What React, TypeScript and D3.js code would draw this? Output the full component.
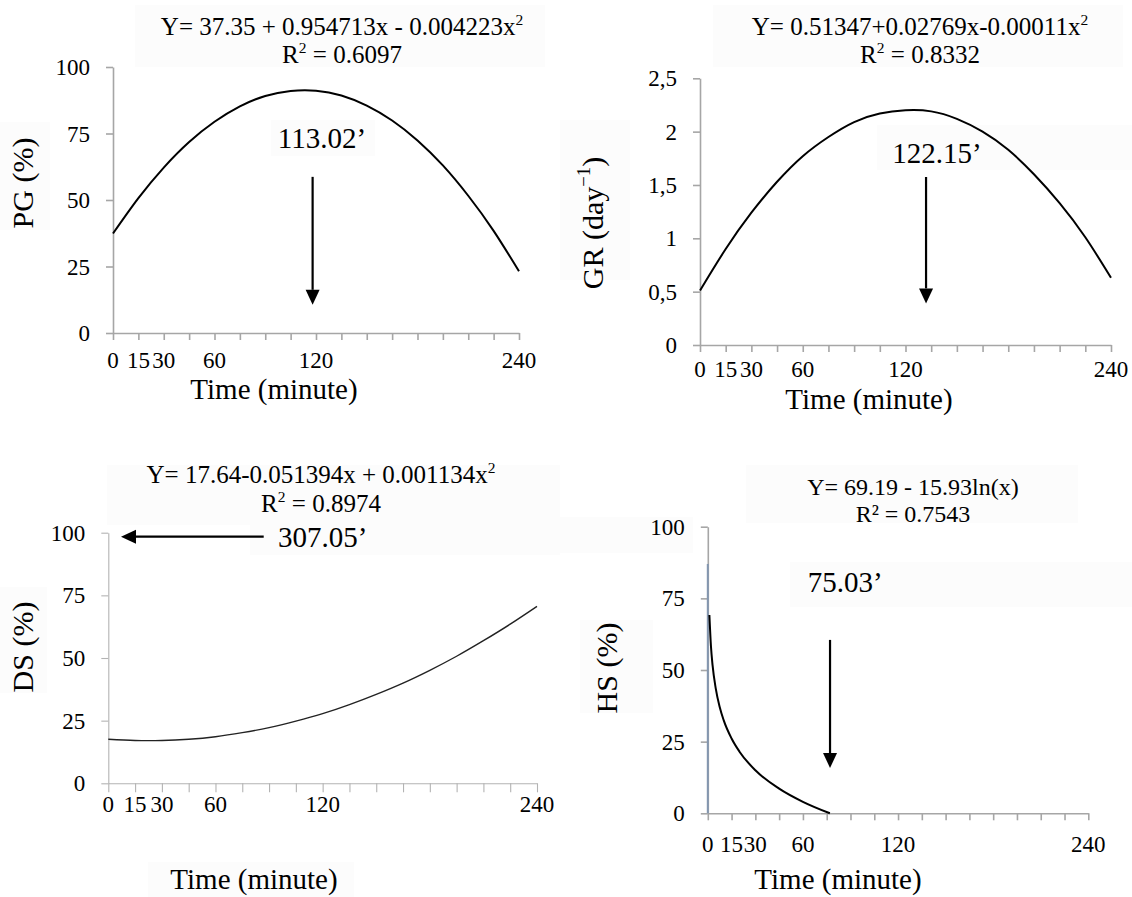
import React, { useEffect, useRef } from "react";
import * as d3 from "d3";

// time axis (minutes)
const minuteTicks = [0, 15, 30, 45, 60, 75, 90, 105, 120, 135, 150, 165, 180, 195, 210, 225, 240];
const minuteLabels = [0, 15, 30, 60, 120, 240];

// values
const pgValues = [37.4, 50.7, 62.2, 71.8, 79.4, 85.2, 89.1, 91.0, 91.1, 89.3, 85.5, 79.9, 72.4, 63.0, 51.6, 38.4, 23.2];
const grValues = [0.51, 0.9, 1.24, 1.53, 1.77, 1.95, 2.09, 2.17, 2.2, 2.19, 2.12, 2.0, 1.83, 1.6, 1.33, 1.01, 0.63];
const dsValues = [17.6, 17.1, 17.1, 17.6, 18.6, 20.2, 22.2, 24.8, 27.8, 31.4, 35.5, 40.0, 45.1, 50.7, 56.9, 63.5, 70.6];
const hsTime = [1, 2, 3, 5, 7.5, 10, 15, 20, 30, 45, 60, 77];
const hsValues = [69.2, 58.2, 51.7, 43.6, 37.1, 32.5, 26.1, 21.5, 15.0, 8.6, 4.0, 0];
const hsAxisTrace = [0, 87];

const percentTicks = [0, 25, 50, 75, 100];
const grTicks = [0, 0.5, 1, 1.5, 2, 2.5];
const grTickLabels = ["0", "0,5", "1", "1,5", "2", "2,5"];

// annotations: [x, y] in data units
const pgNote = { text: "113.02\u2019", at: [123.5, 69.5], from: [118, 58.7], to: [118, 10.6] };
const grNote = { text: "122.15\u2019", at: [138.4, 1.706], from: [132, 1.575], to: [132, 0.39] };
const dsNote = { text: "307.05\u2019", at: [120, 94.3], from: [87, 98.4], to: [7.1, 98.4] };
const hsNote = { text: "75.03\u2019", at: [86.6, 77.2], from: [77.1, 60.5], to: [77.1, 15.8] };

const FONT = "'Liberation Serif', 'Times New Roman', serif";

type Seg = { t: string; sup?: boolean };

function addText(g: any, segs: Seg[], x: number, y: number, size: number, rotate = false, anchor = "middle") {
  const text = g.append("text")
    .attr("text-anchor", anchor)
    .attr("font-family", FONT)
    .attr("font-size", size)
    .attr("fill", "#000");
  if (rotate) text.attr("transform", `translate(${x},${y}) rotate(-90)`);
  else text.attr("x", x).attr("y", y);
  let shift = 0;
  segs.forEach(s => {
    const sp = text.append("tspan").text(s.t);
    if (s.sup) {
      shift = size * 0.42;
      sp.attr("font-size", size * 0.62).attr("dy", -shift);
    } else if (shift) {
      sp.attr("dy", shift);
      shift = 0;
    }
  });
  return text;
}

function drawPanel(svg: any, p: any) {
  const g = svg.append("g");

  // very faint backing boxes seen in the original
  p.boxes.forEach((b: number[]) => {
    g.append("rect").attr("x", b[0]).attr("y", b[1]).attr("width", b[2]).attr("height", b[3]).attr("fill", "#fcfcfc");
  });

  const x = d3.scaleLinear().domain([0, 240]).range([p.left, p.right]);
  const y = d3.scaleLinear().domain([0, p.yMax]).range([p.bottom, p.top]);

  const xAxis = g.append("g")
    .attr("transform", `translate(0,${p.bottom})`)
    .call(d3.axisBottom(x).tickValues(minuteTicks).tickFormat(() => "").tickSizeInner(p.xTick).tickSizeOuter(0));
  const yAxis = g.append("g")
    .attr("transform", `translate(${p.left},0)`)
    .call(d3.axisLeft(y).tickValues(p.yTicks).tickFormat(() => "").tickSizeInner(7).tickSizeOuter(0));
  [xAxis, yAxis].forEach(a => {
    a.selectAll("path,line").attr("stroke", p.axisColor).attr("stroke-width", p.axisWidth);
  });

  // tick labels
  p.yTicks.forEach((v: number, i: number) => {
    g.append("text").attr("x", p.left - 23).attr("y", y(v)).attr("dy", "0.35em")
      .attr("text-anchor", "end").attr("font-family", FONT).attr("font-size", 23)
      .text(p.yTickLabels ? p.yTickLabels[i] : String(v));
  });
  minuteLabels.forEach(v => {
    g.append("text").attr("x", x(v)).attr("y", p.xLabelY)
      .attr("text-anchor", "middle").attr("font-family", FONT).attr("font-size", 23)
      .text(String(v));
  });

  if (p.trace) {
    g.append("line").attr("x1", x(0)).attr("x2", x(0)).attr("y1", y(p.trace[0])).attr("y2", y(p.trace[1]))
      .attr("stroke", "#8497b0").attr("stroke-width", 2);
  }

  const line = d3.line<number>().x((_, i) => x(p.times[i])).y(d => y(d)).curve(p.curve);
  g.append("path").attr("d", line(p.values)).attr("fill", "none")
    .attr("stroke", p.lineColor).attr("stroke-width", p.lineWidth);

  // arrow
  const n = p.note;
  const ax = x(n.from[0]), ay = y(n.from[1]), bx = x(n.to[0]), by = y(n.to[1]);
  const len = Math.hypot(bx - ax, by - ay);
  const ux = (bx - ax) / len, uy = (by - ay) / len;
  const head = 15, half = 7;
  const cx = bx - ux * head, cy = by - uy * head;
  g.append("line").attr("x1", ax).attr("y1", ay).attr("x2", cx).attr("y2", cy)
    .attr("stroke", "#000").attr("stroke-width", 2.2);
  g.append("path")
    .attr("d", `M${bx},${by}L${cx - uy * half},${cy + ux * half}L${cx + uy * half},${cy - ux * half}Z`)
    .attr("fill", "#000");
  addText(g, [{ t: n.text }], x(n.at[0]), y(n.at[1]), 29);

  // equation
  addText(g, p.eq[0], p.eqX, p.eqY[0], p.eqSize);
  addText(g, p.eq[1], p.eqX, p.eqY[1], p.eqSize);

  // axis titles
  addText(g, [{ t: "Time (minute)" }], p.timeX, p.timeY, 29);
  addText(g, p.yTitle, p.yTitleX, p.yTitleY, 30, true);
}

const panels = [
  {
    left: 113, right: 519, top: 67, bottom: 333, yMax: 100,
    yTicks: percentTicks, times: minuteTicks, values: pgValues, curve: d3.curveNatural,
    lineColor: "#000", lineWidth: 2, axisColor: "#a6a6a6", axisWidth: 1.6, xTick: 7,
    xLabelY: 368, timeX: 274, timeY: 399,
    yTitle: [{ t: "PG (%)" }], yTitleX: 33, yTitleY: 183,
    eq: [[{ t: "Y= 37.35 + 0.954713x - 0.004223x" }, { t: "2", sup: true }], [{ t: "R" }, { t: "2", sup: true }, { t: " = 0.6097" }]],
    eqX: 342, eqY: [35, 63], eqSize: 25, note: pgNote,
    boxes: [[135, 5, 410, 62], [0, 122, 50, 108], [271, 120, 104, 36]],
  },
  {
    left: 700, right: 1111, top: 78.3, bottom: 345, yMax: 2.5,
    yTicks: grTicks, yTickLabels: grTickLabels, times: minuteTicks, values: grValues, curve: d3.curveNatural,
    lineColor: "#000", lineWidth: 2, axisColor: "#a6a6a6", axisWidth: 1.6, xTick: 7,
    xLabelY: 377, timeX: 869, timeY: 409,
    yTitle: [{ t: "GR (day" }, { t: "\u22121", sup: true }, { t: ")" }], yTitleX: 603, yTitleY: 223,
    eq: [[{ t: "Y= 0.51347+0.02769x-0.00011x" }, { t: "2", sup: true }], [{ t: "R" }, { t: "2", sup: true }, { t: " = 0.8332" }]],
    eqX: 920, eqY: [35, 63], eqSize: 25, note: grNote,
    boxes: [[713, 5, 410, 62], [560, 120, 70, 160], [877, 125, 255, 45]],
  },
  {
    left: 108.3, right: 537, top: 532.7, bottom: 783.3, yMax: 100,
    yTicks: percentTicks, times: minuteTicks, values: dsValues, curve: d3.curveNatural,
    lineColor: "#222", lineWidth: 1.4, axisColor: "#b3b3b3", axisWidth: 1.1, xTick: 9,
    xLabelY: 812, timeX: 254, timeY: 889,
    yTitle: [{ t: "DS (%)" }], yTitleX: 33, yTitleY: 647,
    eq: [[{ t: "Y= 17.64-0.051394x + 0.001134x" }, { t: "2", sup: true }], [{ t: "R" }, { t: "2", sup: true }, { t: " = 0.8974" }]],
    eqX: 321, eqY: [483, 512], eqSize: 25, note: dsNote,
    boxes: [[107, 465, 453, 60], [250, 515, 310, 40], [0, 587, 47, 106], [148, 862, 206, 35]],
  },
  {
    left: 707.8, right: 1088.3, top: 526.7, bottom: 813.3, yMax: 100,
    yTicks: percentTicks, times: hsTime, values: hsValues, trace: hsAxisTrace, curve: d3.curveMonotoneX,
    lineColor: "#000", lineWidth: 2, axisColor: "#a6a6a6", axisWidth: 1.6, xTick: 7,
    xLabelY: 852, timeX: 838, timeY: 889,
    yTitle: [{ t: "HS (%)" }], yTitleX: 617, yTitleY: 668,
    eq: [[{ t: "Y= 69.19 - 15.93ln(x)" }], [{ t: "R\u00b2 = 0.7543" }]],
    eqX: 913, eqY: [495, 522], eqSize: 24, note: hsNote,
    boxes: [[746, 465, 332, 58], [790, 562, 342, 45], [580, 620, 73, 93], [560, 517, 133, 36]],
  },
];

export default function App() {
  const ref = useRef<SVGSVGElement>(null);

  useEffect(() => {
    const svg = d3.select(ref.current);
    svg.selectAll("*").remove();
    panels.forEach(p => drawPanel(svg, p));
  }, []);

  return (
    <svg ref={ref} width={1132} height={897}
      style={{ position: "absolute", left: 0, top: 0, background: "#fff" }} />
  );
}
